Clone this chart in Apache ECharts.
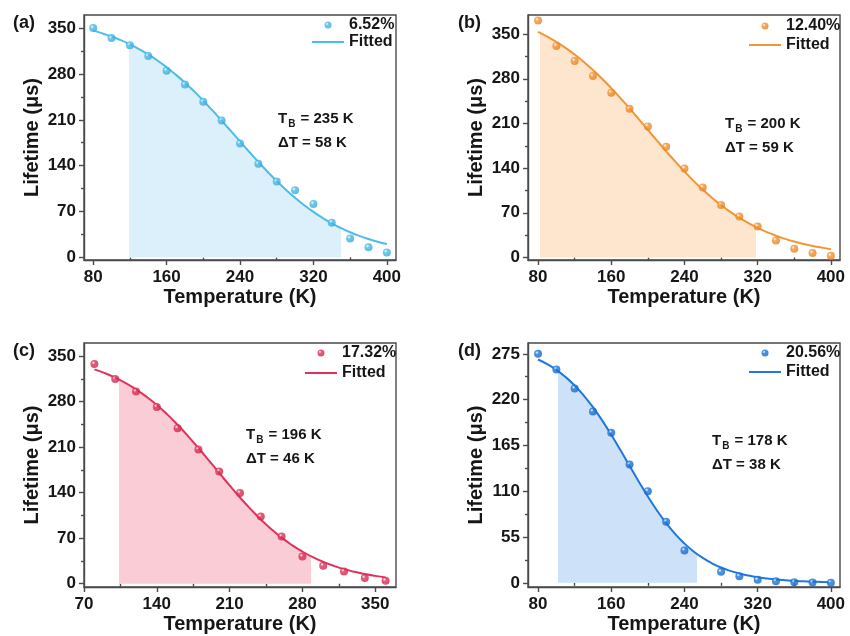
<!DOCTYPE html>
<html>
<head>
<meta charset="utf-8">
<script src="https://cdn.jsdelivr.net/npm/echarts@6/dist/echarts.min.js"></script>
<style>
  html, body { margin: 0; padding: 0; background: #ffffff; }
  #chart { width: 850px; height: 636px; }
</style>
</head>
<body>
<div id="chart"></div>
<script>
// ---- measured lifetimes (K, μs) ----
const tempA = [80, 100, 120, 140, 160, 180, 200, 220, 240, 260, 280, 300, 320, 340, 360, 380, 400];
const lifeA = [350, 334.7, 324, 307.6, 285, 264, 237.7, 209, 174, 142.8, 115.8, 102.5, 81.6, 53, 29, 15.3, 7.6];

const tempB = [80, 100, 120, 140, 160, 180, 200, 220, 240, 260, 280, 300, 320, 340, 360, 380, 400];
const lifeB = [371.4, 331.6, 308, 284.5, 258.3, 233, 205.4, 173.4, 139.4, 109.6, 82.2, 64, 48.7, 26.7, 13.7, 6.8, 2.7];

const tempC = [80, 100, 120, 140, 160, 180, 200, 220, 240, 260, 280, 300, 320, 340, 360];
const lifeC = [337.7, 314.7, 295.4, 271.8, 239.1, 206.5, 172.7, 139.5, 103.2, 72.5, 41.8, 27.6, 18.9, 8.7, 4.6];

const tempD = [80, 100, 120, 140, 160, 180, 200, 220, 240, 280, 300, 320, 340, 360, 380, 400];
const lifeD = [275, 256.2, 233.3, 205.7, 180.1, 142.1, 110.1, 73.3, 38.8, 13.2, 8, 3.6, 2, 0.8, 0.3, 0];

// ---- fitted curves, sampled every 10 K ----
const fitTempA = [80, 90, 100, 110, 120, 130, 140, 150, 160, 170, 180, 190, 200, 210, 220, 230, 240, 250, 260, 270, 280, 290, 300, 310, 320, 330, 340, 350, 360, 370, 380, 390, 400];
const fitA = [346.1, 341.9, 337.1, 331.6, 325.2, 318.0, 309.8, 300.6, 290.3, 279.0, 266.7, 253.4, 239.2, 224.3, 208.8, 193.0, 177.0, 161.2, 145.7, 130.8, 116.6, 103.3, 91.0, 79.7, 69.4, 60.2, 52.0, 44.8, 38.4, 32.9, 28.1, 23.9, 20.3];

const fitTempB = [80, 90, 100, 110, 120, 130, 140, 150, 160, 170, 180, 190, 200, 210, 220, 230, 240, 250, 260, 270, 280, 290, 300, 310, 320, 330, 340, 350, 360, 370, 380, 390, 400];
const fitB = [353.7, 346.3, 337.9, 328.5, 318.0, 306.4, 293.7, 280.0, 265.3, 249.8, 233.6, 216.9, 200.0, 183.1, 166.4, 150.2, 134.7, 120.0, 106.3, 93.6, 82.0, 71.5, 62.1, 53.7, 46.3, 39.8, 34.1, 29.2, 24.9, 21.2, 18.1, 15.4, 13.0];

const fitTempC = [80, 90, 100, 110, 120, 130, 140, 150, 160, 170, 180, 190, 200, 210, 220, 230, 240, 250, 260, 270, 280, 290, 300, 310, 320, 330, 340, 350, 360];
const fitC = [329.5, 323.7, 316.7, 308.4, 298.8, 287.5, 274.7, 260.3, 244.3, 227.0, 208.6, 189.6, 170.3, 151.1, 132.6, 115.1, 98.8, 84.1, 70.9, 59.4, 49.4, 40.8, 33.6, 27.6, 22.5, 18.3, 14.9, 12.1, 9.8];

const fitTempD = [80, 90, 100, 110, 120, 130, 140, 150, 160, 170, 180, 190, 200, 210, 220, 230, 240, 250, 260, 270, 280, 290, 300, 310, 320, 330, 340, 350, 360, 370, 380, 390, 400];
const fitD = [268.2, 262.6, 255.7, 247.2, 237.0, 224.9, 210.9, 195.1, 177.8, 159.4, 140.5, 121.7, 103.6, 86.9, 71.8, 58.5, 47.2, 37.7, 29.9, 23.5, 18.4, 14.4, 11.2, 8.7, 6.7, 5.2, 4.0, 3.1, 2.4, 1.8, 1.4, 1.1, 0.8];

// ---- shaded temperature windows (K) ----
const shadeA = [119, 350];
const shadeB = [82, 318];
const shadeC = [104, 288];
const shadeD = [102, 254];

// ---- labels ----
const seriesLabels = ['6.52%', '12.40%', '17.32%', '20.56%'];
const panelTags = ['(a)', '(b)', '(c)', '(d)'];
const tbValues = [235, 200, 196, 178];
const dtValues = [58, 59, 46, 38];

// ---- axis ticks ----
const xTicksA = [80, 160, 240, 320, 400];
const xMinorA = [120, 200, 280, 360];
const xTicksC = [70, 140, 210, 280, 350];
const xMinorC = [105, 175, 245, 315];
const yTicks350 = [0, 70, 140, 210, 280, 350];
const yMinor350 = [35, 105, 175, 245, 315];
const yTicks275 = [0, 55, 110, 165, 220, 275];
const yMinor275 = [27.5, 82.5, 137.5, 192.5, 247.5];

const panels = [
  { temp: tempA, life: lifeA, fitT: fitTempA, fitV: fitA, shade: shadeA,
    xRange: [70, 410], xTicks: xTicksA, xMinor: xMinorA,
    yRange: [-4, 370], yTicks: yTicks350, yMinor: yMinor350 },
  { temp: tempB, life: lifeB, fitT: fitTempB, fitV: fitB, shade: shadeB,
    xRange: [69, 410], xTicks: xTicksA, xMinor: xMinorA,
    yRange: [-4, 380], yTicks: yTicks350, yMinor: yMinor350 },
  { temp: tempC, life: lifeC, fitT: fitTempC, fitV: fitC, shade: shadeC,
    xRange: [70, 370], xTicks: xTicksC, xMinor: xMinorC,
    yRange: [-5, 370], yTicks: yTicks350, yMinor: yMinor350 },
  { temp: tempD, life: lifeD, fitT: fitTempD, fitV: fitD, shade: shadeD,
    xRange: [69, 410], xTicks: xTicksA, xMinor: xMinorA,
    yRange: [-5, 288], yTicks: yTicks275, yMinor: yMinor275 }
];

// ---- styling & layout ----
const FONT = "'Liberation Sans', Arial, Helvetica, sans-serif";
const INK = '#161616';
const FRAME = '#4a4a4a';
const palette = [
  { line: '#4cbde9', fill: '#dcf0fc', dark: '#3aa6d6' },
  { line: '#f29535', fill: '#fde6cd', dark: '#e07f22' },
  { line: '#e0325a', fill: '#f9ccd6', dark: '#c8264c' },
  { line: '#1f78da', fill: '#cde1f8', dark: '#1664c2' }
];
const gridBoxes = [
  { left: 84, top: 15, width: 312, height: 245 },
  { left: 528, top: 15, width: 312, height: 245 },
  { left: 84, top: 343, width: 312, height: 244 },
  { left: 528, top: 343, width: 312, height: 244 }
];
const legendPos = [
  { left: 311, top: 17, gap: 1 }, { left: 748, top: 18, gap: 3 },
  { left: 304, top: 345, gap: 4 }, { left: 748, top: 345, gap: 3 }
];
const tagPos = [[13, 14], [458, 14], [13, 342], [458, 342]];
const notePos = [[278, 109], [725, 114], [246, 425], [712, 431]];

const chart = echarts.init(document.getElementById('chart'), null, { renderer: 'canvas' });

const grid = [], xAxis = [], yAxis = [], series = [], legend = [], visualMap = [], graphic = [];

function pairs(xs, ys) { return xs.map((x, i) => [x, ys[i]]); }

function ball(c) {
  return {
    type: 'radial', x: 0.36, y: 0.34, r: 0.72,
    colorStops: [
      { offset: 0, color: '#ffffff' },
      { offset: 0.3, color: c.line },
      { offset: 1, color: c.dark }
    ]
  };
}

panels.forEach((p, i) => {
  const c = palette[i];
  grid.push(Object.assign({ show: true, borderColor: FRAME, borderWidth: 1.4, backgroundColor: 'transparent' }, gridBoxes[i]));

  const tickLine = { color: FRAME, width: 1.4 };
  // major x axis with labels
  xAxis.push({
    type: 'value', gridIndex: i, position: 'bottom', min: p.xRange[0], max: p.xRange[1],
    axisLine: { show: true, onZero: false, lineStyle: tickLine },
    axisTick: { show: true, inside: false, length: 5, customValues: p.xTicks, lineStyle: tickLine },
    axisLabel: { customValues: p.xTicks, fontSize: 17, fontWeight: 'bold', fontFamily: FONT, color: INK, margin: 9 },
    splitLine: { show: false },
    name: 'Temperature (K)', nameLocation: 'middle', nameGap: 27,
    nameTextStyle: { fontSize: 20, fontWeight: 'bold', fontFamily: FONT, color: INK }
  });
  // minor x ticks
  xAxis.push({
    type: 'value', gridIndex: i, position: 'bottom', min: p.xRange[0], max: p.xRange[1],
    axisLine: { show: false },
    axisTick: { show: true, inside: false, length: 3, customValues: p.xMinor, lineStyle: tickLine },
    axisLabel: { show: false }, splitLine: { show: false }
  });
  // major y axis with labels
  yAxis.push({
    type: 'value', gridIndex: i, position: 'left', min: p.yRange[0], max: p.yRange[1],
    axisLine: { show: true, onZero: false, lineStyle: tickLine },
    axisTick: { show: true, inside: false, length: 5, customValues: p.yTicks, lineStyle: tickLine },
    axisLabel: { customValues: p.yTicks, fontSize: 17, fontWeight: 'bold', fontFamily: FONT, color: INK, margin: 8 },
    splitLine: { show: false },
    name: 'Lifetime (μs)', nameLocation: 'middle', nameGap: 42,
    nameTextStyle: { fontSize: 20, fontWeight: 'bold', fontFamily: FONT, color: INK }
  });
  // minor y ticks
  yAxis.push({
    type: 'value', gridIndex: i, position: 'left', min: p.yRange[0], max: p.yRange[1],
    axisLine: { show: false },
    axisTick: { show: true, inside: false, length: 3, customValues: p.yMinor, lineStyle: tickLine },
    axisLabel: { show: false }, splitLine: { show: false }
  });

  const xi = i * 2, yi = i * 2;
  const fitData = pairs(p.fitT, p.fitV);

  // shaded area under the fit, limited to the window by a visualMap
  const shadeIndex = series.length;
  series.push({
    type: 'line', xAxisIndex: xi, yAxisIndex: yi, data: fitData, smooth: true,
    symbol: 'none', lineStyle: { width: 0 }, areaStyle: { opacity: 1 }, z: 1, silent: true
  });
  visualMap.push({
    type: 'piecewise', show: false, seriesIndex: shadeIndex, dimension: 0,
    pieces: [{ gte: p.shade[0], lte: p.shade[1], color: c.fill }],
    outOfRange: { color: 'rgba(255,255,255,0)' }
  });

  // fitted curve
  const fitName = 'Fitted ' + panelTags[i];
  series.push({
    name: fitName, type: 'line', xAxisIndex: xi, yAxisIndex: yi, data: fitData,
    smooth: true, symbol: 'none', showSymbol: false,
    lineStyle: { color: c.line, width: 2 }, itemStyle: { color: c.line }, z: 3
  });

  // measured points
  series.push({
    name: seriesLabels[i], type: 'scatter', xAxisIndex: xi, yAxisIndex: yi,
    data: pairs(p.temp, p.life), symbol: 'circle', symbolSize: 8,
    itemStyle: { color: ball(c) }, z: 4
  });

  legend.push({
    orient: 'vertical', left: legendPos[i].left, top: legendPos[i].top, padding: 0,
    itemWidth: 32, itemHeight: 7, itemGap: legendPos[i].gap,
    data: [
      { name: seriesLabels[i] },
      { name: fitName, itemStyle: { opacity: 0 } }
    ],
    formatter: n => (n.indexOf('Fitted') === 0 ? 'Fitted' : n),
    textStyle: { fontSize: 16, fontWeight: 'bold', fontFamily: FONT, color: INK },
    selectedMode: false
  });

  graphic.push({
    type: 'text', left: tagPos[i][0], top: tagPos[i][1],
    style: { text: panelTags[i], fontSize: 18, fontWeight: 'bold', fontFamily: FONT, fill: INK }
  });
  graphic.push({
    type: 'text', left: notePos[i][0], top: notePos[i][1],
    style: {
      text: '{t|T}{s|B}{t| = ' + tbValues[i] + ' K}\n{t|ΔT = ' + dtValues[i] + ' K}',
      fontFamily: FONT, fill: INK,
      rich: {
        t: { fontSize: 15, fontWeight: 'bold', fontFamily: FONT, fill: INK, lineHeight: 24 },
        s: { fontSize: 10, fontWeight: 'bold', fontFamily: FONT, fill: INK, padding: [10, 1, 0, 1], lineHeight: 24 }
      }
    }
  });
});

chart.setOption({
  animation: false,
  backgroundColor: '#ffffff',
  grid, xAxis, yAxis, series, legend, visualMap, graphic
});
</script>
</body>
</html>
